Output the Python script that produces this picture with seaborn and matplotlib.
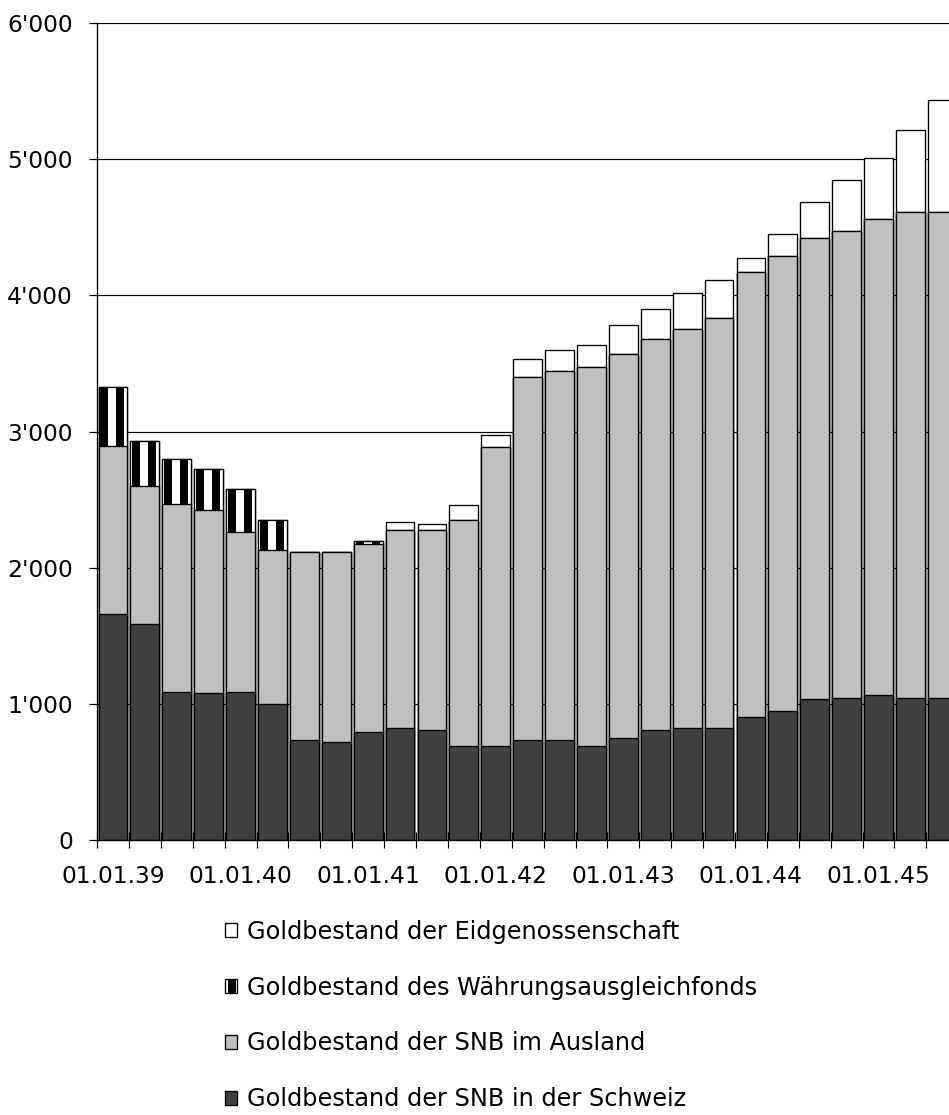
import numpy as np
import matplotlib
matplotlib.use("Agg")
import matplotlib.pyplot as plt
import matplotlib.patches as mpatches
import seaborn as sns

# ---- data (Mio. CHF), quarterly from 01.01.39 ----
dates = ["01.01.39", "01.04.39", "01.07.39", "01.10.39",
         "01.01.40", "01.04.40", "01.07.40", "01.10.40",
         "01.01.41", "01.04.41", "01.07.41", "01.10.41",
         "01.01.42", "01.04.42", "01.07.42", "01.10.42",
         "01.01.43", "01.04.43", "01.07.43", "01.10.43",
         "01.01.44", "01.04.44", "01.07.44", "01.10.44",
         "01.01.45", "01.04.45", "01.07.45"]
snb_schweiz = [1662, 1588, 1088, 1076, 1088, 997, 738, 721, 794, 821, 809, 691,
               691, 735, 735, 691, 748, 809, 821, 824, 901, 948, 1034, 1046,
               1062, 1046, 1046]
snb_ausland = [1233, 1012, 1380, 1348, 1174, 1130, 1380, 1397, 1382, 1458, 1470, 1662,
               2194, 2667, 2709, 2785, 2820, 2873, 2929, 3012, 3272, 3342, 3389, 3423,
               3497, 3568, 3568]
waf = [433, 331, 328, 301, 319, 226, 0, 0, 17, 0, 0, 0,
       0, 0, 0, 0, 0, 0, 0, 0, 0, 0, 0, 0, 0, 0, 0]
eidg = [0, 0, 0, 0, 0, 0, 0, 0, 0, 59, 45, 105,
        88, 132, 152, 158, 216, 219, 265, 278, 102, 164, 265, 380,
        453, 602, 824]
label_dates = ["01.01.39", "01.01.40", "01.01.41", "01.01.42",
               "01.01.43", "01.01.44", "01.01.45"]
yticks = [0, 1000, 2000, 3000, 4000, 5000, 6000]
ytick_labels = ["0", "1'000", "2'000", "3'000", "4'000", "5'000", "6'000"]
series_names = ["Goldbestand der Eidgenossenschaft",
                "Goldbestand des Währungsausgleichfonds",
                "Goldbestand der SNB im Ausland",
                "Goldbestand der SNB in der Schweiz"]

sns.set_theme(style="white")
plt.rcParams["font.family"] = ["DejaVu Sans"]
plt.rcParams["text.color"] = "black"
plt.rcParams["hatch.linewidth"] = 6.0
plt.rcParams["hatch.color"] = "black"

DPI = 96
W, H = 949, 1115
fig = plt.figure(figsize=(W / DPI, H / DPI), dpi=DPI)
n_cat = 28
left_px, bottom_px, top_px = 97, 840, 23
spacing = 31.9
ax = fig.add_axes([left_px / W, (H - bottom_px) / H,
                   n_cat * spacing / W, (bottom_px - top_px) / H])

s1 = np.array(snb_schweiz, dtype=float)
s2 = s1 + np.array(snb_ausland)
s3 = s2 + np.array(waf)
s4 = s3 + np.array(eidg)

common = dict(ax=ax, width=0.9, edgecolor="black", linewidth=1.0,
              saturation=1, errorbar=None)
sns.barplot(x=dates, y=s4, color="white", **common)
sns.barplot(x=dates, y=s3, color="white", hatch="|", **common)
sns.barplot(x=dates, y=s2, color="#c0c0c0", **common)
sns.barplot(x=dates, y=s1, color="#404040", **common)

ax.set_xlim(-0.5, n_cat - 0.5)
ax.set_ylim(0, 6000)
ax.set_axisbelow(True)
ax.yaxis.grid(True, color="black", linewidth=0.9)
ax.xaxis.grid(False)

for side in ["right", "top"]:
    ax.spines[side].set_visible(False)
for side in ["left", "bottom"]:
    ax.spines[side].set_color("black")
    ax.spines[side].set_linewidth(1.0)

pos = [dates.index(d) for d in label_dates]
ax.set_xticks(pos)
ax.set_xticklabels(label_dates)
ax.set_xticks(np.arange(-0.5, n_cat - 0.5, 1), minor=True)
ax.tick_params(axis="x", which="major", length=0, pad=19, labelsize=17.5,
               colors="black")
ax.tick_params(axis="x", which="minor", direction="inout", length=12,
               width=0.9, color="black", bottom=True)
ax.set_yticks(yticks)
ax.set_yticklabels(ytick_labels)
ax.tick_params(axis="y", which="major", direction="out", length=6, width=0.9,
               color="black", pad=12, labelsize=17.5, left=True, labelcolor="black")
ax.set_xlabel("")
ax.set_ylabel("")

handles = [
    mpatches.Patch(facecolor="white", edgecolor="black", linewidth=1.0),
    mpatches.Patch(facecolor="white", edgecolor="black", linewidth=1.0, hatch="|"),
    mpatches.Patch(facecolor="#c0c0c0", edgecolor="black", linewidth=1.0),
    mpatches.Patch(facecolor="#404040", edgecolor="black", linewidth=1.0),
]
leg = fig.legend(handles, series_names, loc="upper left",
                 bbox_to_anchor=(225 / W, (H - 920) / H), frameon=False,
                 fontsize=18, handlelength=0.52, handleheight=0.52,
                 handletextpad=0.38, labelspacing=1.32, borderpad=0,
                 borderaxespad=0)
for t in leg.get_texts():
    t.set_color("black")

fig.savefig("out.png", dpi=DPI)
